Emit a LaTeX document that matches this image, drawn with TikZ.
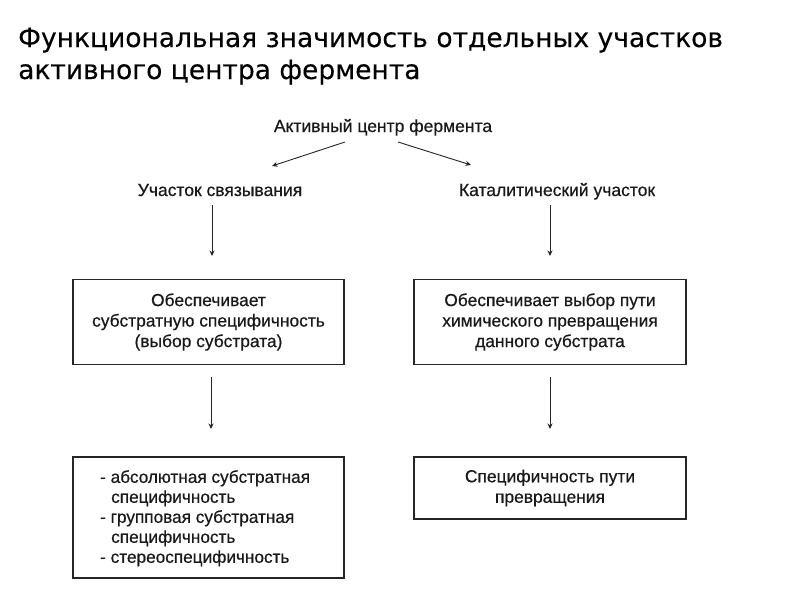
\documentclass[tikz,border=0pt]{standalone}
\usepackage{fontspec}
\setmainfont{Liberation Sans}[FakeBold=0.5]
\newfontfamily\titlefont{DejaVu Sans}[FakeBold=0.3]
\usetikzlibrary{arrows.meta}
\begin{document}
\begin{tikzpicture}[x=1pt,y=-1pt,
  ttl/.style={anchor=base west, inner sep=0pt, font=\titlefont\fontsize{26.5}{32}\selectfont, text=black},
  lbl/.style={inner sep=0pt, font=\fontsize{17.5}{20}\selectfont, text=black!90},
  box/.style={draw=black!85, line width=1.3pt, inner sep=0pt, font=\fontsize{17.4}{20.5}\selectfont, text=black!90, align=center},
  arr/.style={draw=black!85, line width=0.9pt, -{Stealth[length=5.5pt,width=5pt]}}
]
\useasboundingbox (0,0) rectangle (800,600);
\fill[white] (0,0) rectangle (800,600);

% title
\node[ttl] (t1) at (18,47) {Функциональная значимость отдельных участков};
\node[ttl] (t2) at (18,79) {активного центра фермента};

% top labels
\node[lbl, anchor=base] (act) at (383,132) {Активный центр фермента};
\node[lbl, anchor=base] (bind) at (220,196) {Участок связывания};
\node[lbl, anchor=base] (cat) at (557,196) {Каталитический участок};

% boxes
\node[box, minimum width=271pt, minimum height=85pt] (b1) at (208.5,322) {Обеспечивает\\субстратную специфичность\\(выбор субстрата)};
\node[box, minimum width=272pt, minimum height=85pt] (b2) at (550,322) {Обеспечивает выбор пути\\химического превращения\\данного субстрата};
\node[box, minimum width=271pt, minimum height=121pt] (b3) at (208.5,517.5) {};
\node[box, minimum width=272pt, minimum height=62pt] (b4) at (550,488) {Специфичность пути\\превращения};

\node[lbl, anchor=north west, align=left, font=\fontsize{17.2}{20}\selectfont] (b3t) at (100,470) {- абсолютная субстратная\\\hspace*{11pt}специфичность\\- групповая субстратная\\\hspace*{11pt}специфичность\\- стереоспецифичность};

% connector end points
\coordinate (actL) at (345,142);
\coordinate (actR) at (398,142);
\coordinate (bindIn) at (272,166);
\coordinate (catIn) at (471,165);
\coordinate (bindOut) at (212,205);
\coordinate (bindEnd) at (212,256);
\coordinate (catOut) at (550,205);
\coordinate (catEnd) at (550,256);
\coordinate (b1Out) at (211,377);
\coordinate (b1End) at (211,429);
\coordinate (b2Out) at (550,377);
\coordinate (b2End) at (550,429);

\draw[arr] (actL) -- (bindIn);
\draw[arr] (actR) -- (catIn);
\draw[arr] (bindOut) -- (bindEnd);
\draw[arr] (catOut) -- (catEnd);
\draw[arr] (b1Out) -- (b1End);
\draw[arr] (b2Out) -- (b2End);
\end{tikzpicture}
\end{document}
